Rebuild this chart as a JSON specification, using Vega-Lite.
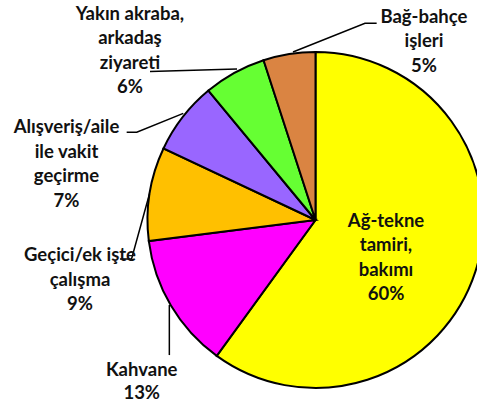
{
  "$schema": "https://vega.github.io/schema/vega-lite/v6.json",
  "autosize": "none",
  "width": 323,
  "height": 368,
  "padding": {"left": 154, "top": 36, "right": 0, "bottom": 0},
  "background": "white",
  "config": {"view": {"stroke": null}},
  "data": {
    "values": [
      {"cat": "Ağ-tekne tamiri, bakımı", "v": 60, "o": 1, "label": "Ağ-tekne\ntamiri,\nbakımı\n60%"},
      {"cat": "Kahvane", "v": 13, "o": 2, "label": "Kahvane\n13%"},
      {"cat": "Geçici/ek işte çalışma", "v": 9, "o": 3, "label": "Geçici/ek işte\nçalışma\n9%"},
      {"cat": "Alışveriş/aile ile vakit geçirme", "v": 7, "o": 4, "label": "Alışveriş/aile\nile vakit\ngeçirme\n7%"},
      {"cat": "Yakın akraba, arkadaş ziyareti", "v": 6, "o": 5, "label": "Yakın akraba,\narkadaş\nziyareti\n6%"},
      {"cat": "Bağ-bahçe işleri", "v": 5, "o": 6, "label": "Bağ-bahçe\nişleri\n5%"}
    ]
  },
  "layer": [
    {
      "mark": {"type": "arc", "radius": 168, "stroke": "black", "strokeWidth": 2},
      "encoding": {
        "theta": {"field": "v", "type": "quantitative", "stack": true},
        "order": {"field": "o", "type": "quantitative", "sort": "ascending"},
        "color": {
          "field": "cat", "type": "nominal", "legend": null,
          "scale": {
            "domain": ["Ağ-tekne tamiri, bakımı", "Kahvane", "Geçici/ek işte çalışma", "Alışveriş/aile ile vakit geçirme", "Yakın akraba, arkadaş ziyareti", "Bağ-bahçe işleri"],
            "range": ["#FFFF00", "#FF00FF", "#FFC000", "#9966FF", "#66FF33", "#DA8442"]
          }
        }
      }
    },
    {
      "transform": [{"filter": "datum.o > 1"}],
      "mark": {"type": "point", "filled": false, "fill": null, "stroke": "black", "strokeWidth": 1.5, "opacity": 1, "size": 112896},
      "encoding": {
        "shape": {
          "field": "cat", "type": "nominal", "legend": null,
          "scale": {
            "domain": ["Kahvane", "Geçici/ek işte çalışma", "Alışveriş/aile ile vakit geçirme", "Yakın akraba, arkadaş ziyareti", "Bağ-bahçe işleri"],
            "range": [
              "M-0.870,0.506L-0.870,0.804",
              "M-0.988,-0.156L-1.095,0.232L-1.164,0.232",
              "M-0.787,-0.635L-1.064,-0.522L-1.124,-0.522",
              "M-0.467,-0.899L-0.985,-0.884",
              "M-0.134,-1.0L0.2946,-1.1708L0.364,-1.1708"
            ]
          }
        }
      }
    },
    {
      "mark": {"type": "text", "radius": 70.5, "thetaOffset": -0.300, "font": "Lato", "fontWeight": "bold", "fontSize": 18.5, "lineHeight": 24.5, "lineBreak": "\n", "align": "center", "baseline": "middle", "color": "#111111"},
      "encoding": {
        "theta": {"field": "v", "type": "quantitative", "stack": true},
        "order": {"field": "o", "type": "quantitative", "sort": "ascending"},
        "text": {"condition": {"test": "datum.o === 1", "field": "label", "type": "nominal"}, "value": ""}
      }
    },
    {
      "mark": {"type": "text", "radius": 229.3, "thetaOffset": -0.1766, "font": "Lato", "fontWeight": "bold", "fontSize": 18.5, "lineHeight": 23, "lineBreak": "\n", "align": "center", "baseline": "middle", "color": "#111111"},
      "encoding": {
        "theta": {"field": "v", "type": "quantitative", "stack": true},
        "order": {"field": "o", "type": "quantitative", "sort": "ascending"},
        "text": {"condition": {"test": "datum.o === 2", "field": "label", "type": "nominal"}, "value": ""}
      }
    },
    {
      "mark": {"type": "text", "radius": 238.1, "thetaOffset": -0.3054, "font": "Lato", "fontWeight": "bold", "fontSize": 18.5, "lineHeight": 24.5, "lineBreak": "\n", "align": "center", "baseline": "middle", "color": "#111111"},
      "encoding": {
        "theta": {"field": "v", "type": "quantitative", "stack": true},
        "order": {"field": "o", "type": "quantitative", "sort": "ascending"},
        "text": {"condition": {"test": "datum.o === 3", "field": "label", "type": "nominal"}, "value": ""}
      }
    },
    {
      "mark": {"type": "text", "radius": 265.7, "thetaOffset": -0.3037, "font": "Lato", "fontWeight": "bold", "fontSize": 18.5, "lineHeight": 24.5, "lineBreak": "\n", "align": "center", "baseline": "middle", "color": "#111111"},
      "encoding": {
        "theta": {"field": "v", "type": "quantitative", "stack": true},
        "order": {"field": "o", "type": "quantitative", "sort": "ascending"},
        "text": {"condition": {"test": "datum.o === 4", "field": "label", "type": "nominal"}, "value": ""}
      }
    },
    {
      "mark": {"type": "text", "radius": 277.3, "thetaOffset": -0.2304, "font": "Lato", "fontWeight": "bold", "fontSize": 18.5, "lineHeight": 24.5, "lineBreak": "\n", "align": "center", "baseline": "middle", "color": "#111111"},
      "encoding": {
        "theta": {"field": "v", "type": "quantitative", "stack": true},
        "order": {"field": "o", "type": "quantitative", "sort": "ascending"},
        "text": {"condition": {"test": "datum.o === 5", "field": "label", "type": "nominal"}, "value": ""}
      }
    },
    {
      "mark": {"type": "text", "radius": 230.2, "thetaOffset": 0.6475, "font": "Lato", "fontWeight": "bold", "fontSize": 18.5, "lineHeight": 24.5, "lineBreak": "\n", "align": "center", "baseline": "middle", "color": "#111111"},
      "encoding": {
        "theta": {"field": "v", "type": "quantitative", "stack": true},
        "order": {"field": "o", "type": "quantitative", "sort": "ascending"},
        "text": {"condition": {"test": "datum.o === 6", "field": "label", "type": "nominal"}, "value": ""}
      }
    }
  ]
}
